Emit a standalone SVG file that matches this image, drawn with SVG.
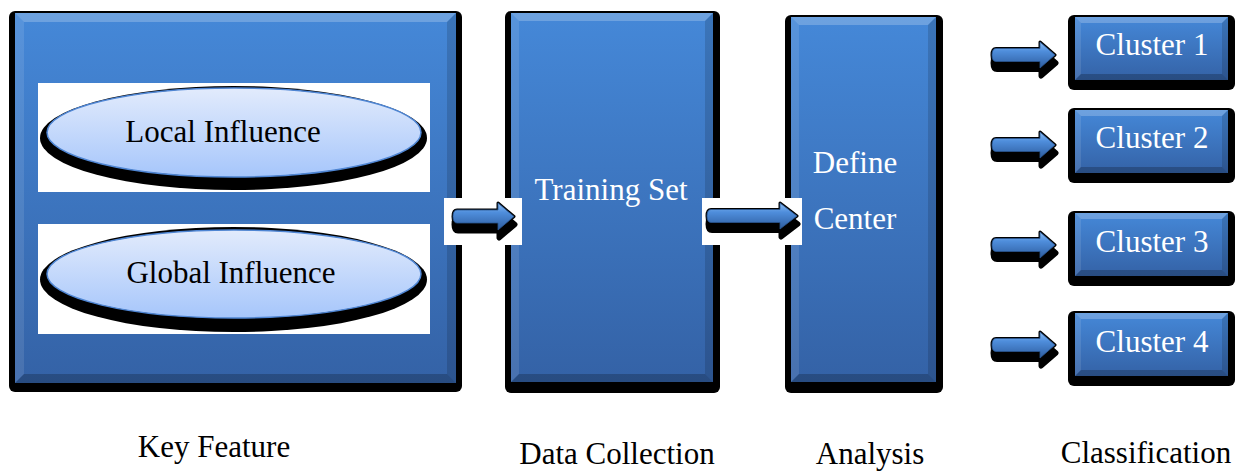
<svg xmlns="http://www.w3.org/2000/svg" xmlns:xlink="http://www.w3.org/1999/xlink" width="1235" height="471" viewBox="0 0 1235 471">
  <defs>
    <style>
      .lbl { font-family: "Liberation Serif", "Times New Roman", serif; font-size: 31px; }
      .in { fill: #ffffff; text-anchor: middle; }
      .dark { fill: #000000; text-anchor: middle; }
      .back { fill: #000000; }
      .face { fill: url(#faceGrad); }
      .bv-top { fill: #ffffff; fill-opacity: 0.22; }
      .bv-left { fill: #ffffff; fill-opacity: 0.10; }
      .bv-right { fill: #000000; fill-opacity: 0.14; }
      .bv-bottom { fill: #000000; fill-opacity: 0.22; }
      .ar-shadow { fill: #000000; stroke: #000000; stroke-width: 5; stroke-linejoin: round; }
      .ar-edge { fill: #000000; stroke: #000000; stroke-width: 3; stroke-linejoin: round; }
      .ar-face { fill: url(#arrowGrad); stroke: #2a5590; stroke-width: 0.8; }
      .oval-shadow { fill: #000000; }
      .oval-face { fill: url(#ovalGrad); stroke: #4f86d4; stroke-width: 1.5; }
    </style>
    <linearGradient id="faceGrad" x1="0" y1="0" x2="0" y2="1">
      <stop offset="0" stop-color="#4588d8"/>
      <stop offset="1" stop-color="#3462a6"/>
    </linearGradient>
    <linearGradient id="arrowGrad" x1="0" y1="0" x2="0" y2="1">
      <stop offset="0" stop-color="#8cbcf2"/>
      <stop offset="0.35" stop-color="#4f8edc"/>
      <stop offset="1" stop-color="#2d5c9e"/>
    </linearGradient>
    <linearGradient id="ovalGrad" x1="0" y1="0" x2="0" y2="1">
      <stop offset="0" stop-color="#e2ebfc"/>
      <stop offset="1" stop-color="#a6c6fb"/>
    </linearGradient>
    <!-- small cluster box: face 153 x 63 with bevel 6 -->
    <g id="clusterBox">
      <rect class="back" x="-7" y="-2" width="167" height="75" rx="6"/>
      <rect class="face" x="0" y="0" width="153" height="63"/>
      <polygon class="bv-top" points="0,0 153,0 147,6 6,6"/>
      <polygon class="bv-left" points="0,0 6,6 6,57 0,63"/>
      <polygon class="bv-right" points="153,0 153,63 147,57 147,6"/>
      <polygon class="bv-bottom" points="0,63 153,63 147,57 6,57"/>
    </g>
    <!-- short arrow pointing at a cluster, centred on y = 0 -->
    <path id="clusterArrow" d="M996,-6.5 L1040,-6.5 L1040,-13 L1055,0 L1040,13 L1040,6.5 L996,6.5 Q992,6.5 992,0 Q992,-6.5 996,-6.5 Z"/>
  </defs>

  <rect x="0" y="0" width="1235" height="471" fill="#ffffff"/>

  <!-- Key Feature -->
  <g id="key-feature">
    <rect class="back" x="9" y="11" width="453" height="381" rx="6"/>
    <rect class="face" x="15" y="13" width="441" height="370"/>
    <polygon class="bv-top" points="15,13 456,13 447,22 24,22"/>
    <polygon class="bv-left" points="15,13 24,22 24,374 15,383"/>
    <polygon class="bv-right" points="456,13 456,383 447,374 447,22"/>
    <polygon class="bv-bottom" points="15,383 456,383 447,374 24,374"/>
    <rect x="38" y="83" width="392" height="109" fill="#ffffff"/>
    <rect x="38" y="224" width="392" height="110" fill="#ffffff"/>
    <g id="local-influence">
      <ellipse class="oval-shadow" cx="233.5" cy="138" rx="193.5" ry="52"/>
      <ellipse class="oval-face" cx="234" cy="132.5" rx="187" ry="44.5"/>
      <text class="lbl dark" x="223" y="142">Local Influence</text>
    </g>
    <g id="global-influence">
      <ellipse class="oval-shadow" cx="233.5" cy="279.5" rx="193.5" ry="52.5"/>
      <ellipse class="oval-face" cx="234" cy="274" rx="187" ry="44"/>
      <text class="lbl dark" x="231" y="283">Global Influence</text>
    </g>
    <text class="lbl dark" x="214" y="457">Key Feature</text>
  </g>

  <!-- Data Collection -->
  <g id="data-collection">
    <rect class="back" x="505" y="11" width="215" height="382" rx="6"/>
    <rect class="face" x="511" y="13" width="202" height="369"/>
    <polygon class="bv-top" points="511,13 713,13 705,21 519,21"/>
    <polygon class="bv-left" points="511,13 519,21 519,374 511,382"/>
    <polygon class="bv-right" points="713,13 713,382 705,374 705,21"/>
    <polygon class="bv-bottom" points="511,382 713,382 705,374 519,374"/>
    <text class="lbl in" x="611" y="200">Training Set</text>
    <text class="lbl dark" x="617" y="464">Data Collection</text>
  </g>

  <!-- Analysis -->
  <g id="analysis">
    <rect class="back" x="785" y="15" width="158" height="378" rx="6"/>
    <rect class="face" x="791" y="17" width="145" height="365"/>
    <polygon class="bv-top" points="791,17 936,17 928,25 799,25"/>
    <polygon class="bv-left" points="791,17 799,25 799,374 791,382"/>
    <polygon class="bv-right" points="936,17 936,382 928,374 928,25"/>
    <polygon class="bv-bottom" points="791,382 936,382 928,374 799,374"/>
    <text class="lbl in" x="855" y="173">Define</text>
    <text class="lbl in" x="855" y="229">Center</text>
    <text class="lbl dark" x="870" y="464">Analysis</text>
  </g>

  <!-- Classification -->
  <g id="cluster-1">
    <use xlink:href="#clusterBox" transform="translate(1075,17)"/>
    <text class="lbl in" x="1152" y="55">Cluster 1</text>
  </g>
  <g id="cluster-2">
    <use xlink:href="#clusterBox" transform="translate(1075,110)"/>
    <text class="lbl in" x="1152" y="148">Cluster 2</text>
  </g>
  <g id="cluster-3">
    <use xlink:href="#clusterBox" transform="translate(1075,213)"/>
    <text class="lbl in" x="1152" y="252">Cluster 3</text>
  </g>
  <g id="cluster-4">
    <use xlink:href="#clusterBox" transform="translate(1075,313)"/>
    <text class="lbl in" x="1152" y="352">Cluster 4</text>
  </g>
  <text id="classification-label" class="lbl dark" x="1146" y="463">Classification</text>

  <!-- Connectors: block arrows -->
  <g id="connectors">
    <g id="arrow-feature-data">
      <rect x="444" y="198" width="78" height="47" fill="#ffffff"/>
      <path class="ar-shadow" transform="translate(1,8)" d="M457,210 L498,210 L498,203 L514,216.5 L498,230 L498,223 L457,223 Q453,223 453,216.5 Q453,210 457,210 Z"/>
      <path class="ar-edge" d="M457,210 L498,210 L498,203 L514,216.5 L498,230 L498,223 L457,223 Q453,223 453,216.5 Q453,210 457,210 Z"/>
      <path class="ar-face" d="M457,210 L498,210 L498,203 L514,216.5 L498,230 L498,223 L457,223 Q453,223 453,216.5 Q453,210 457,210 Z"/>
    </g>
    <g id="arrow-data-analysis">
      <rect x="702" y="198" width="100" height="47" fill="#ffffff"/>
      <path class="ar-shadow" transform="translate(1,8)" d="M711,209.5 L780,209.5 L780,203 L797,216 L780,229 L780,222.5 L711,222.5 Q707,222.5 707,216 Q707,209.5 711,209.5 Z"/>
      <path class="ar-edge" d="M711,209.5 L780,209.5 L780,203 L797,216 L780,229 L780,222.5 L711,222.5 Q707,222.5 707,216 Q707,209.5 711,209.5 Z"/>
      <path class="ar-face" d="M711,209.5 L780,209.5 L780,203 L797,216 L780,229 L780,222.5 L711,222.5 Q707,222.5 707,216 Q707,209.5 711,209.5 Z"/>
    </g>
    <g id="arrow-cluster-1">
      <use xlink:href="#clusterArrow" class="ar-shadow" transform="translate(1,63)"/>
      <use xlink:href="#clusterArrow" class="ar-edge" transform="translate(0,55)"/>
      <use xlink:href="#clusterArrow" class="ar-face" transform="translate(0,55)"/>
    </g>
    <g id="arrow-cluster-2">
      <use xlink:href="#clusterArrow" class="ar-shadow" transform="translate(1,153)"/>
      <use xlink:href="#clusterArrow" class="ar-edge" transform="translate(0,145)"/>
      <use xlink:href="#clusterArrow" class="ar-face" transform="translate(0,145)"/>
    </g>
    <g id="arrow-cluster-3">
      <use xlink:href="#clusterArrow" class="ar-shadow" transform="translate(1,253)"/>
      <use xlink:href="#clusterArrow" class="ar-edge" transform="translate(0,245)"/>
      <use xlink:href="#clusterArrow" class="ar-face" transform="translate(0,245)"/>
    </g>
    <g id="arrow-cluster-4">
      <use xlink:href="#clusterArrow" class="ar-shadow" transform="translate(1,353)"/>
      <use xlink:href="#clusterArrow" class="ar-edge" transform="translate(0,345)"/>
      <use xlink:href="#clusterArrow" class="ar-face" transform="translate(0,345)"/>
    </g>
  </g>
</svg>
